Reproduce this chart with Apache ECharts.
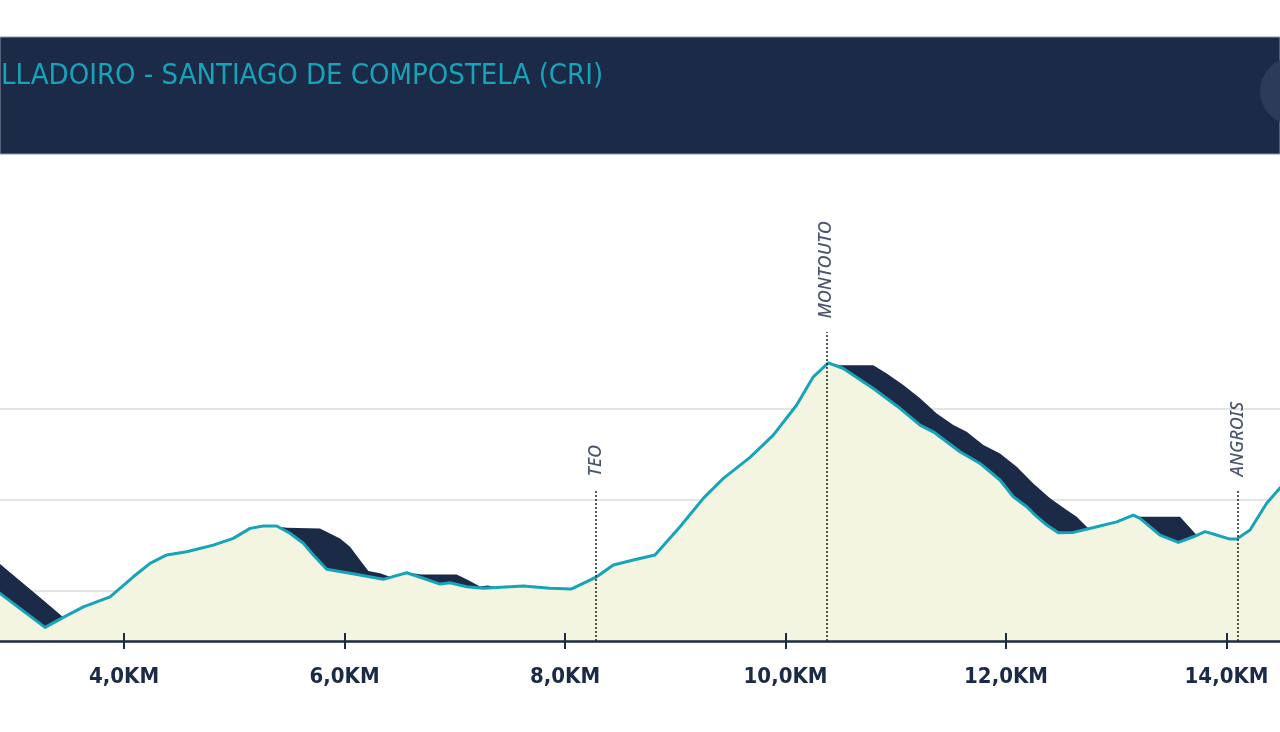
<!DOCTYPE html>
<html>
<head>
<meta charset="utf-8">
<title>Perfil CRI</title>
<script src="https://cdn.jsdelivr.net/npm/echarts@6/dist/echarts.min.js"></script>
<style>
  html, body { margin: 0; padding: 0; background: #fff; }
  #chart { width: 1280px; height: 732px; }
</style>
</head>
<body>
<div id="chart"></div>
<script>
// profile (km, metres)
const distKm = [2.42, 2.875, 3.283, 3.449, 3.631, 3.873, 4.084, 4.236, 4.387, 4.568,
  4.81, 4.991, 5.143, 5.263, 5.385, 5.505, 5.626, 5.717, 5.838, 6.05,
  6.352, 6.564, 6.714, 6.866, 6.957, 7.108, 7.259, 7.622, 7.864, 8.06,
  8.287, 8.438, 8.619, 8.816, 9.043, 9.254, 9.436, 9.678, 9.889, 10.101,
  10.252, 10.388, 10.524, 10.796, 11.038, 11.22, 11.34, 11.582, 11.764, 11.945,
  12.066, 12.188, 12.247, 12.369, 12.474, 12.61, 12.852, 13.004, 13.154, 13.215,
  13.397, 13.563, 13.699, 13.805, 13.88, 14.031, 14.092, 14.213, 14.364, 14.485,
  14.575]
const elevM = [216.0, 198.7, 180.0, 185.5, 191.3, 196.8, 207.8, 215.2, 219.8, 221.6,
  225.2, 228.9, 234.4, 235.7, 235.7, 231.7, 226.2, 219.8, 211.9, 209.7,
  206.4, 210.0, 207.0, 203.8, 204.5, 202.3, 201.5, 202.7, 201.5, 201.1,
  207.8, 214.3, 217.0, 219.8, 235.3, 250.9, 261.9, 273.4, 285.7, 302.2,
  317.7, 325.4, 322.3, 311.3, 300.4, 291.2, 287.5, 276.5, 270.1, 261.0,
  251.8, 246.3, 242.7, 236.2, 232.0, 232.2, 235.7, 238.0, 241.7, 239.9,
  230.7, 226.7, 229.8, 232.6, 231.3, 228.5, 228.5, 233.5, 248.2, 256.6,
  261.0]

// dark side face (top edge of the shadow), null = gap
const faceKm = [2.694, 2.875, 3.265, 3.449, 3.474, null,
  5.385, 5.475, 5.777, 5.959, 6.05, 6.14, 6.216, 6.322, 6.412, 6.485, null,
  6.594, 6.7, 7.017, 7.12, 7.229, 7.301, 7.383, 7.455, null,
  10.388, 10.494, 10.796, 10.918, 11.068, 11.22, 11.371, 11.522, 11.643, 11.794,
  11.945, 12.097, 12.247, 12.399, 12.55, 12.641, 12.732, 12.78, null,
  13.154, 13.215, 13.578, 13.714, 13.75]
const faceElev = [223.6, 214.8, 195.0, 185.5, 184.0, null,
  235.4, 234.8, 234.4, 228.9, 224.3, 217.0, 211.0, 209.7, 207.8, 207.4, null,
  209.9, 209.1, 209.1, 206.0, 202.4, 203.0, 201.9, 201.1, null,
  325.4, 324.1, 324.1, 319.6, 313.2, 305.9, 297.6, 291.2, 287.5, 280.2,
  275.6, 268.3, 259.1, 250.9, 244.5, 240.8, 235.3, 232.9, null,
  241.7, 240.8, 240.8, 231.7, 229.6]

const kmTicks = [4, 6, 8, 10, 12, 14]
const gridElev = [200, 250, 300]

const placeNames = ['TEO', 'MONTOUTO', 'ANGROIS']
const placeKm = [8.28, 10.37, 14.1]
const placeTop = [255.5, 342.3, 255.5]

const titleText = 'MILLADOIRO - SANTIAGO DE COMPOSTELA (CRI)'

const X_MIN = 2.875, X_MAX = 14.485
const Y_MIN = 172.5, Y_MAX = 432.5

const navy = '#1b2a47'
const teal = '#17a3b8'
const narrowFont = '"DejaVu Sans Condensed", "Liberation Sans", sans-serif'
const titleSize = 29

// title starts cut off at the left edge ("MI" hidden)
let ctx = document.createElement('canvas').getContext('2d')
ctx.font = titleSize + 'px ' + narrowFont
let titleX = -ctx.measureText('MI').width + 1

let myChart = echarts.init(document.getElementById('chart'))

let option = {
  animation: false,
  grid: { left: 0, right: 0, top: 168, bottom: 91 },
  xAxis: [
    {
      type: 'value',
      min: X_MIN,
      max: X_MAX,
      z: 10,
      axisLine: { lineStyle: { color: navy, width: 2.5 } },
      axisTick: { customValues: kmTicks, length: 8, lineStyle: { color: navy, width: 2 } },
      axisLabel: {
        customValues: kmTicks,
        margin: 25,
        color: navy,
        fontFamily: narrowFont,
        fontWeight: 'bold',
        fontSize: 22,
        formatter: v => v.toFixed(1).replace('.', ',') + 'KM'
      },
      splitLine: { show: false }
    },
    {
      type: 'value',
      min: X_MIN,
      max: X_MAX,
      position: 'bottom',
      z: 10,
      axisLine: { show: false },
      axisTick: { customValues: kmTicks, inside: true, length: 8, lineStyle: { color: navy, width: 2 } },
      axisLabel: { show: false },
      splitLine: { show: false }
    }
  ],
  yAxis: { type: 'value', min: Y_MIN, max: Y_MAX, show: false, splitLine: { show: false } },
  graphic: [
    {
      type: 'rect', z: 100,
      shape: { x: 0, y: 37, width: 1280, height: 117 },
      style: { fill: navy, stroke: '#8c95a7', lineWidth: 1 }
    },
    {
      type: 'circle', z: 101,
      shape: { cx: 1294, cy: 91, r: 34 },
      style: { fill: '#2c3b58' }
    },
    {
      type: 'text', z: 102,
      x: titleX, y: 76,
      style: {
        text: titleText,
        fill: teal,
        fontFamily: narrowFont,
        fontSize: titleSize,
        verticalAlign: 'middle'
      }
    }
  ],
  series: [
    {
      // grey reference levels, kept under the filled profile
      type: 'line',
      data: [],
      z: 1,
      markLine: {
        silent: true,
        z: 0,
        symbol: 'none',
        label: { show: false },
        lineStyle: { color: '#dcdcdc', width: 1.5, type: 'solid' },
        data: gridElev.map(v => ({ yAxis: v }))
      }
    },
    {
      type: 'line',
      data: faceKm.map((d, i) => d === null ? [null, null] : [d, faceElev[i]]),
      z: 2,
      symbol: 'none',
      connectNulls: false,
      lineStyle: { width: 0 },
      areaStyle: { color: navy, opacity: 1, origin: 'start' }
    },
    {
      type: 'line',
      data: distKm.map((d, i) => [d, elevM[i]]),
      z: 3,
      symbol: 'none',
      lineStyle: { color: teal, width: 3, join: 'round' },
      areaStyle: { color: '#f4f5e1', opacity: 1, origin: 'start' }
    },
    {
      type: 'scatter',
      data: placeNames.map((n, i) => [placeKm[i], placeTop[i], n]),
      z: 4,
      symbolSize: 1,
      itemStyle: { color: 'transparent' },
      label: {
        show: true,
        formatter: p => p.data[2],
        position: 'top',
        distance: 13,
        rotate: 90,
        align: 'left',
        verticalAlign: 'middle',
        color: navy,
        fontFamily: 'Noto Sans',
        fontStyle: 'italic',
        fontWeight: 500,
        fontSize: 18
      },
      markLine: {
        silent: true,
        symbol: 'none',
        label: { show: false },
        lineStyle: { color: '#222', width: 1.5, type: [2, 2] },
        data: placeNames.map((n, i) => [
          { coord: [placeKm[i], Y_MIN] },
          { coord: [placeKm[i], placeTop[i]] }
        ])
      }
    }
  ]
}

myChart.setOption(option)
</script>
</body>
</html>
